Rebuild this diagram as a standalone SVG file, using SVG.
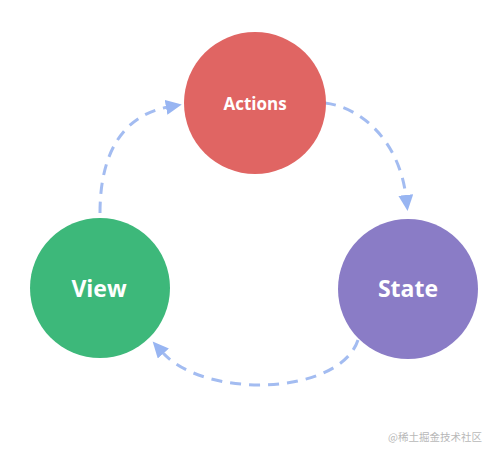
<svg xmlns="http://www.w3.org/2000/svg" width="495" height="455" viewBox="0 0 495 455">
<defs>
<style>
.lbl{font-family:"Open Sans","Noto Sans","Liberation Sans",sans-serif;font-weight:bold;fill:#ffffff;text-anchor:middle}
.edge{fill:none;stroke:#a3bcf1;stroke-width:3;stroke-dasharray:11 8}
</style>
<marker id="ah" markerUnits="userSpaceOnUse" markerWidth="17" markerHeight="15" refX="2" refY="7.5" orient="auto">
<path d="M0,0 L16,7.5 L0,15 z" fill="#98b5f2"/>
</marker>
</defs>
<rect width="495" height="455" fill="#ffffff"/>
<g id="connectors">
<path class="edge" d="M100,213 C100,150 125,115 168,107" marker-end="url(#ah)"/>
<path class="edge" d="M325,103 C365,108 400,145 406,197" marker-end="url(#ah)"/>
<path class="edge" d="M358,340 C340,395 205,400 162,352" marker-end="url(#ah)"/>
</g>
<g id="actions">
<circle cx="255" cy="103" r="71" fill="#e06563"/>
<text class="lbl" x="255" y="110" font-size="17">Actions</text>
</g>
<g id="view">
<circle cx="100" cy="288" r="70" fill="#3db87a"/>
<text class="lbl" x="99" y="297" font-size="23">View</text>
</g>
<g id="state">
<circle cx="408" cy="289" r="70" fill="#8a7cc6"/>
<text class="lbl" x="408" y="297" font-size="23">State</text>
</g>
<text x="435" y="441" font-family="'Noto Sans CJK SC','Noto Sans',sans-serif" font-size="10.5" fill="#b8b8b8" text-anchor="middle">@稀土掘金技术社区</text>
</svg>
